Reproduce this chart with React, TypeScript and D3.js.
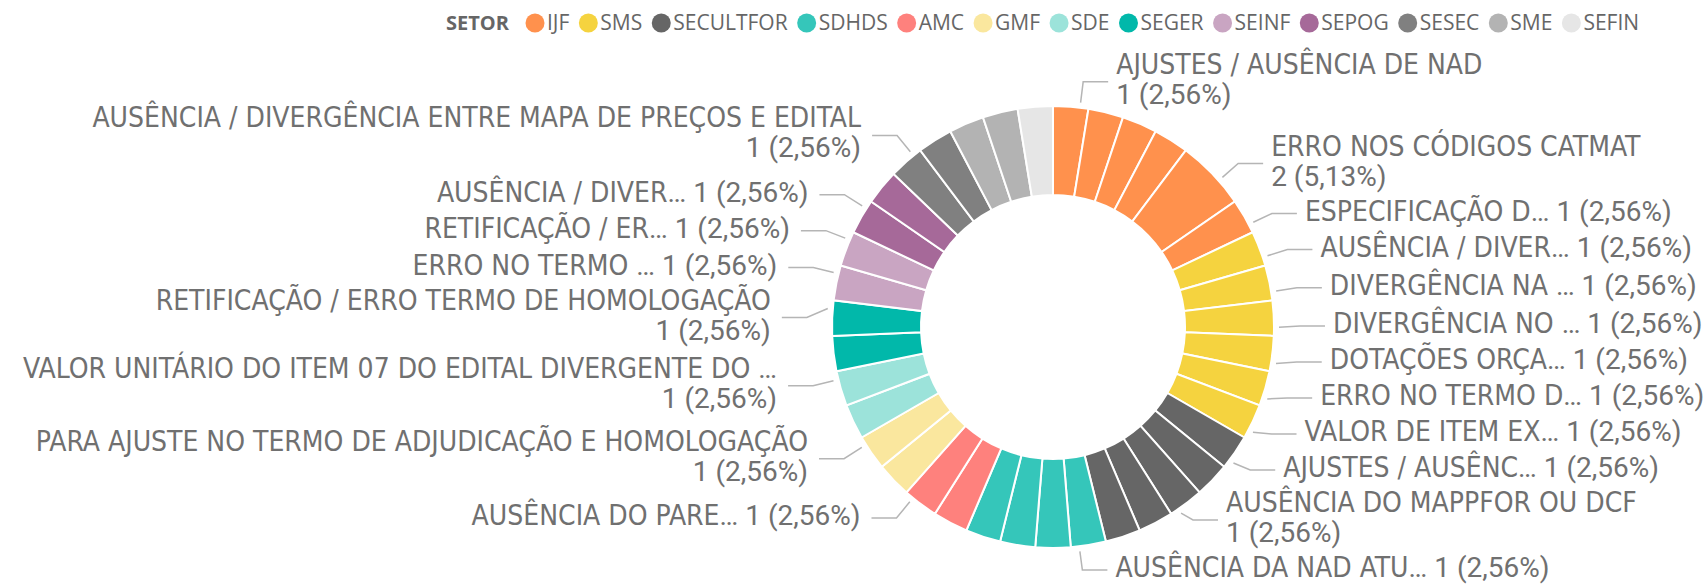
import React, { useEffect, useRef } from "react";
import * as d3 from "d3";

// ---- data ----
const sectors = ["IJF", "SMS", "SECULTFOR", "SDHDS", "AMC", "GMF", "SDE", "SEGER", "SEINF", "SEPOG", "SESEC", "SME", "SEFIN"];
const sectorColors = ["#FF914D", "#F5D33F", "#666666", "#35C6BA", "#FE817D", "#FAE79E", "#9CE3DA", "#01B8AA", "#C9A5C2", "#A66999", "#808080", "#B3B3B3", "#E6E6E6"];

const sliceSector = [
  "IJF", "IJF", "IJF", "IJF", "IJF", "IJF",
  "SMS", "SMS", "SMS", "SMS", "SMS", "SMS",
  "SECULTFOR", "SECULTFOR", "SECULTFOR", "SECULTFOR", "SECULTFOR",
  "SDHDS", "SDHDS", "SDHDS", "SDHDS",
  "AMC", "AMC",
  "GMF", "GMF",
  "SDE", "SDE",
  "SEGER", "SEGER",
  "SEINF", "SEINF",
  "SEPOG", "SEPOG",
  "SESEC", "SESEC",
  "SME", "SME",
  "SEFIN",
];
// labels shown in the chart ("" = label hidden by the chart)
const sliceLabel = [
  "AJUSTES / AUSÊNCIA DE NAD", "", "", "", "ERRO NOS CÓDIGOS CATMAT", "ESPECIFICAÇÃO D…",
  "AUSÊNCIA / DIVER…", "DIVERGÊNCIA NA …", "DIVERGÊNCIA NO …", "DOTAÇÕES ORÇA…", "ERRO NO TERMO D…", "VALOR DE ITEM EX…",
  "AJUSTES / AUSÊNC…", "", "AUSÊNCIA DO MAPPFOR OU DCF", "", "",
  "AUSÊNCIA DA NAD ATU…", "", "", "",
  "", "AUSÊNCIA DO PARE…",
  "", "PARA AJUSTE NO TERMO DE ADJUDICAÇÃO E HOMOLOGAÇÃO",
  "", "VALOR UNITÁRIO DO ITEM 07 DO EDITAL DIVERGENTE DO …",
  "", "RETIFICAÇÃO / ERRO TERMO DE HOMOLOGAÇÃO",
  "ERRO NO TERMO …", "RETIFICAÇÃO / ER…",
  "AUSÊNCIA / DIVER…", "",
  "AUSÊNCIA / DIVERGÊNCIA ENTRE MAPA DE PREÇOS E EDITAL", "",
  "", "",
  "",
];
const sliceValue = [
  1, 1, 1, 1, 2, 1,
  1, 1, 1, 1, 1, 1,
  1, 1, 1, 1, 1,
  1, 1, 1, 1,
  1, 1,
  1, 1,
  1, 1,
  1, 1,
  1, 1,
  1, 1,
  1, 1,
  1, 1,
  1,
];
const legendTitle = "SETOR";

const LABEL_FONT = "'DejaVu Sans Condensed', 'Liberation Sans Narrow', Roboto, sans-serif";
const NUM_FONT = "Roboto, 'DejaVu Sans Condensed', sans-serif";
const LEGEND_FONT = "'Segoe UI', 'Open Sans', 'Noto Sans', sans-serif";

export default function App() {
  const ref = useRef<SVGSVGElement>(null);

  useEffect(() => {
    const svg = d3.select(ref.current);
    svg.selectAll("*").remove();

    const cx = 1053, cy = 327, rOut = 221, rIn = 132;
    const rStart = 226, rLab = 247;
    const shift = (2.4 * Math.PI) / 180;

    const total = d3.sum(sliceValue);
    const color = d3.scaleOrdinal<string, string>().domain(sectors).range(sectorColors);
    const data = sliceValue.map((v, i) => ({ v, sector: sliceSector[i], label: sliceLabel[i] }));
    const pie = d3.pie<any>().value((d: any) => d.v).sort(null);
    const arcs = pie(data);
    const arc = d3.arc<any>().innerRadius(rIn).outerRadius(rOut);

    const g = svg.append("g").attr("transform", `translate(${cx},${cy})`);
    g.selectAll("path")
      .data(arcs)
      .join("path")
      .attr("d", arc as any)
      .attr("fill", (d: any) => color(d.data.sector))
      .attr("stroke", "#ffffff")
      .attr("stroke-width", 2);

    // ---- labels ----
    const fmtPct = (v: number) => ((v / total) * 100).toFixed(2).replace(".", ",") + "%";
    const items = arcs
      .filter((a: any) => a.data.label)
      .map((a: any) => {
        const mid = (a.startAngle + a.endAngle) / 2 + shift;
        const label: string = a.data.label;
        const twoLine = !label.endsWith("…") || label.length > 30;
        return {
          a,
          mid,
          label,
          value: a.data.v,
          right: Math.sin(mid) >= 0,
          twoLine,
          natY: cy - rLab * Math.cos(mid),
          h: twoLine ? 64 : 36,
          y: 0,
        };
      });

    const resolve = (list: any[]) => {
      list.sort((p, q) => p.natY - q.natY);
      let prev: any = null;
      for (const it of list) {
        it.y = it.natY;
        if (prev) it.y = Math.max(it.y, prev.y + (prev.h + it.h) / 2);
        prev = it;
      }
      const maxY = cy + rLab - 4;
      for (let i = list.length - 1; i >= 0; i--) {
        const lim = i === list.length - 1 ? maxY : list[i + 1].y - (list[i].h + list[i + 1].h) / 2;
        if (list[i].y > lim) list[i].y = lim;
      }
    };
    resolve(items.filter((d) => d.right));
    resolve(items.filter((d) => !d.right));

    const addLabelParts = (sel: any, label: string) => {
      if (label.endsWith("…")) {
        sel.append("tspan").attr("font-family", LABEL_FONT).text(label.slice(0, -1));
        sel.append("tspan").attr("font-family", NUM_FONT).text("…");
      } else {
        sel.append("tspan").attr("font-family", LABEL_FONT).text(label);
      }
    };

    const lg = svg.append("g");
    items.forEach((it) => {
      const dir = it.right ? 1 : -1;
      const sx = cx + rStart * Math.sin(it.mid);
      const sy = cy - rStart * Math.cos(it.mid);
      const dy = it.natY - cy;
      const ex = cx + dir * Math.sqrt(Math.max(0, rLab * rLab - dy * dy));
      const endX = ex + dir * 25;
      lg.append("polyline")
        .attr("points", `${sx},${sy} ${ex},${it.y} ${endX},${it.y}`)
        .attr("fill", "none")
        .attr("stroke", "#B5B5B5")
        .attr("stroke-width", 1.5);
      const tx = ex + dir * (it.right ? 33 : 36);
      const valText = `${it.value} (${fmtPct(it.value)})`;
      const anchor = it.right ? "start" : "end";
      if (it.twoLine) {
        const t1 = lg.append("text")
          .attr("x", tx).attr("y", it.y - 8)
          .attr("text-anchor", anchor)
          .attr("font-size", 28)
          .attr("fill", "#707070");
        addLabelParts(t1, it.label);
        lg.append("text")
          .attr("x", tx).attr("y", it.y + 22)
          .attr("text-anchor", anchor)
          .attr("font-family", NUM_FONT)
          .attr("font-size", 28)
          .attr("fill", "#707070")
          .text(valText);
      } else {
        const t = lg.append("text")
          .attr("x", tx).attr("y", it.y + 7)
          .attr("text-anchor", anchor)
          .attr("font-size", 28)
          .attr("fill", "#707070");
        addLabelParts(t, it.label);
        t.append("tspan").attr("font-family", NUM_FONT).text(" " + valText);
      }
    });

    // ---- legend ----
    const leg = svg.append("g");
    leg.append("text")
      .attr("x", 446)
      .attr("y", 30)
      .attr("font-family", LEGEND_FONT)
      .attr("font-size", 20)
      .attr("font-weight", "bold")
      .attr("fill", "#666666")
      .text(legendTitle);
    let x = 535;
    sectors.forEach((s) => {
      leg.append("circle").attr("cx", x).attr("cy", 23).attr("r", 9.5).attr("fill", color(s));
      const t = leg
        .append("text")
        .attr("x", x + 12)
        .attr("y", 30)
        .attr("font-family", LEGEND_FONT)
        .attr("font-size", 21)
        .attr("fill", "#666666")
        .text(s);
      const w = (t.node() as SVGTextElement).getComputedTextLength();
      x = x + 12 + w + 19;
    });
  }, []);

  return (
    <svg
      ref={ref}
      width={1706}
      height={585}
      style={{ position: "absolute", left: 0, top: 0, background: "#ffffff" }}
    />
  );
}
